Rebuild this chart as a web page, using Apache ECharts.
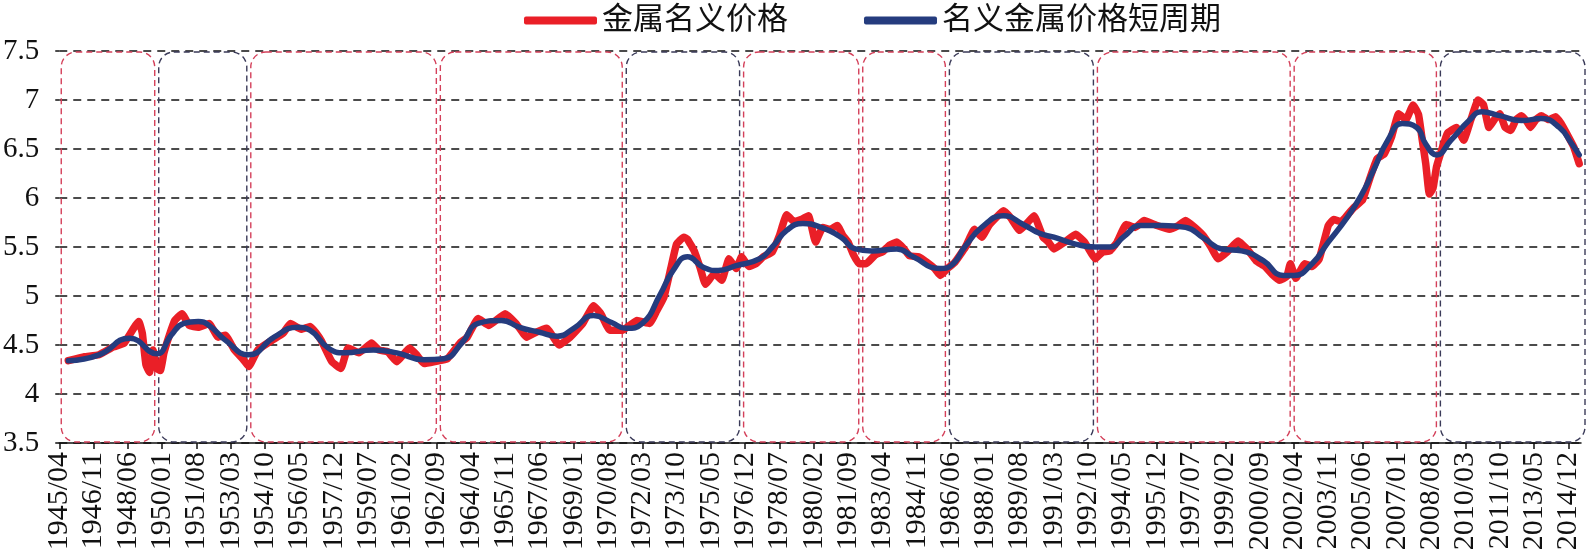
<!DOCTYPE html>
<html>
<head>
<meta charset="utf-8">
<script src="https://cdn.jsdelivr.net/npm/echarts@6/dist/echarts.min.js"></script>
<style>
  html, body { margin: 0; padding: 0; background: #fff; }
  #chart { width: 1586px; height: 558px; }
</style>
</head>
<body>
<div id="chart"></div>
<script>
// monthly categories 1945/04 .. 2015/07
const categories = []
for (let y = 1945; y <= 2015; y++) {
  for (let m = 1; m <= 12; m++) {
    if ((y === 1945 && m < 4) || (y === 2015 && m > 7)) continue
    categories.push(y + '/' + (m < 10 ? '0' + m : m))
  }
}

const seriesNames = ['金属名义价格', '名义金属价格短周期']

// 金属名义价格
const priceDates = [
  '1945/09', '1946/06', '1947/02', '1947/10', '1948/04', '1948/12', '1949/02', '1949/04', '1949/06', '1949/08',
  '1949/10', '1949/12', '1950/02', '1950/05', '1950/08', '1950/12', '1951/04', '1951/09', '1952/03', '1952/08',
  '1952/12', '1953/05', '1953/10', '1954/01', '1954/06', '1955/02', '1955/08', '1955/12', '1956/06', '1956/11',
  '1957/05', '1957/11', '1958/04', '1958/08', '1959/02', '1959/09', '1960/01', '1960/06', '1960/11', '1961/06',
  '1961/10', '1962/02', '1962/08', '1963/03', '1963/10', '1964/02', '1964/08', '1965/02', '1965/11', '1966/05',
  '1966/11', '1967/03', '1967/10', '1968/05', '1968/11', '1969/06', '1969/12', '1970/04', '1970/09', '1971/04',
  '1971/08', '1971/12', '1972/07', '1972/11', '1973/03', '1973/07', '1973/10', '1974/02', '1974/04', '1974/08',
  '1974/11', '1975/02', '1975/07', '1975/11', '1976/03', '1976/07', '1976/10', '1977/02', '1977/06', '1977/10',
  '1978/03', '1978/07', '1978/11', '1979/03', '1979/07', '1979/11', '1980/03', '1980/07', '1980/11', '1981/03',
  '1981/06', '1981/09', '1981/12', '1982/03', '1982/07', '1982/12', '1983/04', '1983/08', '1983/12', '1984/04',
  '1984/07', '1984/12', '1985/05', '1985/09', '1985/12', '1986/04', '1986/08', '1987/02', '1987/07', '1987/11',
  '1988/03', '1988/07', '1988/11', '1989/03', '1989/08', '1989/12', '1990/04', '1990/09', '1990/12', '1991/03',
  '1991/09', '1992/03', '1992/08', '1993/02', '1993/06', '1993/10', '1994/02', '1994/07', '1994/12', '1995/05',
  '1995/12', '1996/07', '1996/12', '1997/04', '1997/09', '1998/02', '1998/06', '1998/10', '1999/03', '1999/09',
  '2000/02', '2000/07', '2000/12', '2001/04', '2001/08', '2001/12', '2002/02', '2002/05', '2002/10', '2003/02',
  '2003/06', '2003/11', '2004/02', '2004/06', '2005/01', '2005/06', '2005/10', '2006/02', '2006/06', '2006/10',
  '2007/02', '2007/06', '2007/10', '2008/01', '2008/03', '2008/05', '2008/07', '2008/09', '2008/11', '2009/02',
  '2009/05', '2009/10', '2010/02', '2010/06', '2010/10', '2011/01', '2011/04', '2011/07', '2011/10', '2012/01',
  '2012/04', '2012/07', '2012/10', '2013/01', '2013/03', '2013/06', '2013/09', '2014/01', '2014/05', '2014/08',
  '2014/11', '2015/03', '2015/06'
]
const priceValues = [
  4.34, 4.38, 4.40, 4.48, 4.52, 4.74, 4.62, 4.30, 4.22, 4.45,
  4.26, 4.24, 4.42, 4.60, 4.75, 4.82, 4.70, 4.68, 4.72, 4.58,
  4.60, 4.45, 4.35, 4.28, 4.45, 4.55, 4.62, 4.72, 4.66, 4.69,
  4.55, 4.33, 4.26, 4.47, 4.42, 4.52, 4.45, 4.43, 4.33, 4.47,
  4.40, 4.31, 4.33, 4.36, 4.52, 4.58, 4.77, 4.70, 4.82, 4.72,
  4.58, 4.62, 4.67, 4.50, 4.58, 4.72, 4.90, 4.82, 4.65, 4.65,
  4.70, 4.75, 4.72, 4.85, 4.99, 5.30, 5.53, 5.60, 5.58, 5.45,
  5.29, 5.12, 5.23, 5.16, 5.38, 5.28, 5.40, 5.30, 5.33, 5.40,
  5.45, 5.62, 5.83, 5.76, 5.78, 5.82, 5.55, 5.70, 5.68, 5.72,
  5.62, 5.55, 5.42, 5.33, 5.33, 5.42, 5.45, 5.52, 5.55, 5.48,
  5.41, 5.40, 5.34, 5.28, 5.21, 5.28, 5.34, 5.50, 5.68, 5.60,
  5.72, 5.80, 5.87, 5.80, 5.67, 5.74, 5.82, 5.60, 5.55, 5.48,
  5.55, 5.63, 5.55, 5.38, 5.45, 5.46, 5.55, 5.73, 5.70, 5.77,
  5.72, 5.68, 5.72, 5.77, 5.70, 5.61, 5.50, 5.38, 5.45, 5.56,
  5.48, 5.36, 5.30, 5.22, 5.16, 5.20, 5.33, 5.18, 5.33, 5.30,
  5.38, 5.72, 5.78, 5.76, 5.90, 5.98, 6.20, 6.40, 6.45, 6.62,
  6.86, 6.80, 6.95, 6.85, 6.60, 6.35, 6.04, 6.10, 6.32, 6.50,
  6.66, 6.72, 6.59, 6.80, 7.00, 6.95, 6.72, 6.80, 6.86, 6.72,
  6.69, 6.80, 6.84, 6.78, 6.72, 6.80, 6.84, 6.80, 6.83, 6.76,
  6.66, 6.52, 6.35
]

// 名义金属价格短周期
const cycleDates = [
  '1945/09', '1947/02', '1948/07', '1949/10', '1950/06', '1951/01', '1951/09', '1952/03', '1952/12', '1954/01',
  '1955/03', '1956/04', '1956/11', '1957/09', '1958/06', '1959/10', '1960/11', '1962/02', '1963/01', '1963/11',
  '1964/08', '1965/09', '1966/07', '1967/06', '1968/04', '1969/01', '1969/12', '1970/10', '1971/06', '1972/03',
  '1973/01', '1973/08', '1974/04', '1975/01', '1975/09', '1976/07', '1977/08', '1978/03', '1978/11', '1979/08',
  '1980/06', '1981/05', '1982/01', '1982/10', '1983/12', '1984/09', '1985/12', '1986/06', '1987/02', '1987/11',
  '1988/11', '1989/10', '1990/07', '1991/03', '1992/03', '1993/02', '1993/10', '1994/06', '1995/03', '1996/03',
  '1997/04', '1998/02', '1998/12', '1999/11', '2000/11', '2001/10', '2002/04', '2003/02', '2003/11', '2004/09',
  '2005/05', '2005/12', '2006/08', '2007/04', '2007/12', '2008/05', '2008/11', '2009/07', '2010/05', '2010/12',
  '2011/10', '2012/10', '2013/09', '2014/07', '2015/02', '2015/06'
]
const cycleValues = [
  4.34, 4.40, 4.57, 4.41, 4.60, 4.72, 4.74, 4.70, 4.55, 4.40,
  4.58, 4.68, 4.65, 4.47, 4.42, 4.45, 4.42, 4.35, 4.36, 4.52,
  4.72, 4.75, 4.68, 4.63, 4.59, 4.67, 4.80, 4.73, 4.67, 4.72,
  5.02, 5.26, 5.40, 5.29, 5.26, 5.31, 5.38, 5.50, 5.67, 5.74,
  5.70, 5.60, 5.48, 5.46, 5.48, 5.40, 5.28, 5.31, 5.51, 5.70,
  5.82, 5.73, 5.64, 5.60, 5.53, 5.50, 5.50, 5.61, 5.72, 5.72,
  5.70, 5.59, 5.48, 5.46, 5.36, 5.21, 5.21, 5.33, 5.55, 5.79,
  6.02, 6.28, 6.59, 6.76, 6.72, 6.55, 6.44, 6.59, 6.79, 6.88,
  6.84, 6.79, 6.81, 6.72, 6.55, 6.44
]

// cycle periods drawn as dashed rounded boxes
const periods = [
  ['1945/04', '1949/10'], ['1949/10', '1954/01'], ['1954/01', '1962/10'], ['1962/10', '1971/05'],
  ['1971/05', '1976/10'], ['1976/10', '1982/04'], ['1982/04', '1986/04'], ['1986/04', '1993/02'],
  ['1993/02', '2002/03'], ['2002/03', '2008/12'], ['2008/12', '2015/07']
]
const periodColors = ['#d4405a', '#3a3a58', '#d4405a', '#d4405a', '#3a3a58', '#d4405a',
  '#d4405a', '#3a3a58', '#d4405a', '#d4405a', '#3a3a58']

const fontLatin = "'Liberation Serif', 'Times New Roman', serif"
const fontMixed = "'Liberation Serif', 'Noto Sans CJK SC', serif"

const chart = echarts.init(document.getElementById('chart'))

const option = {
  animation: false,
  legend: {
    data: seriesNames,
    left: 519,
    top: 0,
    icon: 'roundRect',
    itemWidth: 73,
    itemHeight: 8,
    itemGap: 76,
    selectedMode: false,
    textStyle: { color: '#111', fontSize: 31, fontFamily: fontMixed }
  },
  grid: { left: 59, right: 5, top: 51, bottom: 115 },
  xAxis: {
    type: 'category',
    data: categories,
    boundaryGap: false,
    axisLine: { lineStyle: { color: '#111', width: 1.5 } },
    axisTick: { interval: 18, length: 6, lineStyle: { color: '#111', width: 1.5 } },
    axisLabel: {
      interval: 18,
      rotate: 90,
      margin: 9,
      color: '#111',
      fontSize: 30,
      fontFamily: fontLatin
    },
    splitLine: { show: false }
  },
  yAxis: {
    type: 'value',
    min: 3.5,
    max: 7.5,
    interval: 0.5,
    axisLine: { show: false },
    axisTick: { show: true, length: 4, lineStyle: { color: '#111', width: 1.5 } },
    axisLabel: { color: '#111', fontSize: 29, fontFamily: fontLatin, margin: 20 },
    splitLine: { lineStyle: { color: '#111', width: 1.6, type: [8, 6] } }
  },
  series: [
    {
      name: seriesNames[0],
      type: 'line',
      data: priceDates.map((d, i) => [d, priceValues[i]]),
      symbol: 'none',
      smooth: 0.12,
      z: 3,
      lineStyle: { color: '#ea1f27', width: 7.5, cap: 'round', join: 'round' },
      itemStyle: { color: '#ea1f27' }
    },
    {
      name: seriesNames[1],
      type: 'line',
      data: cycleDates.map((d, i) => [d, cycleValues[i]]),
      symbol: 'none',
      smooth: 0.5,
      z: 4,
      lineStyle: { color: '#253c7e', width: 5.5, cap: 'round', join: 'round' },
      itemStyle: { color: '#253c7e' }
    }
  ]
}

chart.setOption(option)

// dashed rounded boxes placed through the axes
const xPix = (d) => chart.convertToPixel({ xAxisIndex: 0 }, categories.indexOf(d))
const yTop = chart.convertToPixel({ yAxisIndex: 0 }, 7.5) + 1
const yBottom = chart.convertToPixel({ yAxisIndex: 0 }, 3.5) - 1
const boxes = periods.map((p, i) => {
  const x0 = xPix(p[0]) + 2
  const x1 = i === periods.length - 1 ? xPix(p[1]) + 4 : xPix(p[1]) - 2
  return {
    type: 'rect',
    z: 1,
    silent: true,
    shape: { x: x0, y: yTop, width: x1 - x0, height: yBottom - yTop, r: 15 },
    style: { fill: 'none', stroke: periodColors[i], lineWidth: 1.4, lineDash: [6, 4] }
  }
})
chart.setOption({ graphic: boxes })
</script>
</body>
</html>
